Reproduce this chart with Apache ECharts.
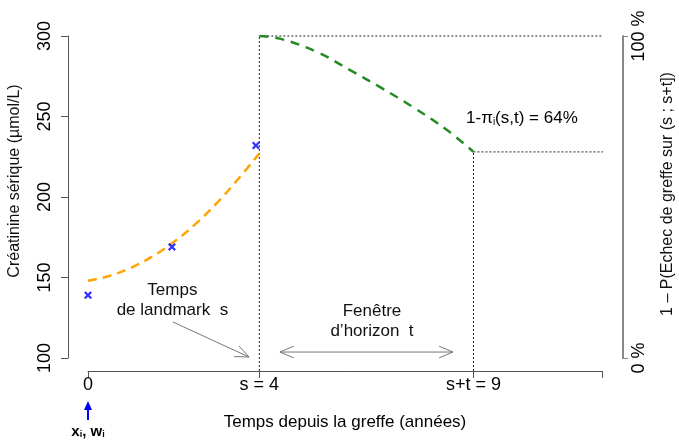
<!DOCTYPE html>
<html>
<head>
<meta charset="utf-8">
<script src="https://cdn.jsdelivr.net/npm/echarts@6/dist/echarts.min.js"></script>
<style>
    html, body { margin: 0; padding: 0; background: #fff; }
    #chart { width: 679px; height: 440px; }
</style>
</head>
<body>
<div id="chart"></div>
<script>
    // données
    const fitYears = [0, 0.5, 1, 1.5, 2, 2.5, 3, 3.5, 4];
    const fitCreat = [148, 151, 156, 163, 172, 183, 196, 211, 227];
    const obsYears = [0, 1.96, 3.92];
    const obsCreat = [139, 169, 232];
    const survYears = [4, 4.5, 5.35, 6.12, 6.82, 7.59, 8.39, 9];
    const survPct = [100, 99.1, 95.0, 89.4, 84.1, 77.9, 70.7, 64];
    const landmark = 4;
    const horizonEnd = 9;
    const xTicks = [0, 4, 9, 12];
    const xTickLabels = ['0', 's = 4', 's+t = 9', ''];
    const pctTicks = [0, 100];

    const FONT = '"Liberation Sans", Arial, sans-serif';
    const X_OFFSET = 13;   // axe x décalé vers le bas (style R)
    const LEFT_OFFSET = 20;
    const RIGHT_OFFSET = 21;

    const chart = echarts.init(document.getElementById('chart'));

    const crossPath = 'path://M0,2 L2,0 L5,3 L8,0 L10,2 L7,5 L10,8 L8,10 L5,7 L2,10 L0,8 L3,5 Z';

    const option = {
        animation: false,
        textStyle: { fontFamily: FONT },
        grid: { left: 88, right: 77, top: 36, bottom: 82 },
        xAxis: {
            type: 'value',
            min: 0,
            max: 12,
            offset: X_OFFSET,
            splitLine: { show: false },
            axisLine: { onZero: false, lineStyle: { color: '#555', width: 1 } },
            axisTick: { length: 7, customValues: xTicks, lineStyle: { color: '#555' } },
            axisLabel: {
                customValues: xTicks,
                fontSize: 18,
                color: '#000',
                margin: 5,
                formatter: function (v) {
                    return xTickLabels[xTicks.indexOf(v)];
                }
            },
            name: 'Temps depuis la greffe (années)',
            nameLocation: 'middle',
            nameGap: 43,
            nameTextStyle: { fontSize: 17, color: '#000' }
        },
        yAxis: [{
            type: 'value',
            min: 100,
            max: 300,
            interval: 50,
            offset: LEFT_OFFSET,
            splitLine: { show: false },
            axisLine: { show: true, onZero: false, lineStyle: { color: '#555', width: 1 } },
            axisTick: { length: 7, lineStyle: { color: '#555' } },
            axisLabel: { rotate: 90, fontSize: 18, color: '#000', margin: 14 }
        }, {
            type: 'value',
            position: 'right',
            min: 0,
            max: 100,
            offset: RIGHT_OFFSET,
            splitLine: { show: false },
            axisLine: { show: true, onZero: false, lineStyle: { color: '#888', width: 2 } },
            axisTick: { show: true, length: 5, customValues: pctTicks, lineStyle: { color: '#888' } },
            axisLabel: {
                customValues: pctTicks,
                rotate: 90,
                fontSize: 18,
                color: '#000',
                margin: 7,
                formatter: '{value} %'
            }
        }],
        series: [{
            name: 'ajustement',
            type: 'line',
            smooth: 0.4,
            showSymbol: false,
            data: fitYears.map((x, i) => [x, fitCreat[i]]),
            lineStyle: { color: '#FFA500', width: 2.5, type: [9, 6] },
            z: 3
        }, {
            name: 'observations',
            type: 'scatter',
            symbol: crossPath,
            symbolSize: 8,
            data: obsYears.map((x, i) => [x, obsCreat[i]]),
            itemStyle: { color: '#0000FF' },
            z: 4
        }, {
            name: 'survie',
            type: 'line',
            yAxisIndex: 1,
            smooth: 0.4,
            showSymbol: false,
            data: survYears.map((x, i) => [x, survPct[i]]),
            lineStyle: { color: '#228B22', width: 2.5, type: [9, 7] },
            z: 3
        }]
    };
    chart.setOption(option);

    // repères pointillés jusqu'aux axes décalés
    const finder = { xAxisIndex: 0, yAxisIndex: 1 };
    const pOrigin = chart.convertToPixel(finder, [12, 0]);
    const floorPct = chart.convertFromPixel(finder, [pOrigin[0], pOrigin[1] + X_OFFSET])[1];
    const rightX = chart.convertFromPixel(finder, [pOrigin[0] + RIGHT_OFFSET, pOrigin[1]])[0];
    const endPct = survPct[survPct.length - 1];
    const dotted = { color: '#222', width: 1, type: [2, 2] };
    const guide = (pts) => ({
        type: 'line', yAxisIndex: 1, showSymbol: false, clip: false, silent: true,
        data: pts, lineStyle: dotted, z: 2
    });

    // annotations (coordonnées données)
    const px = (x, y) => chart.convertToPixel({ xAxisIndex: 0, yAxisIndex: 0 }, [x, y]);
    const gray = '#777';
    function openArrow(p0, p1, heads) {
        const els = [{
            type: 'line', shape: { x1: p0[0], y1: p0[1], x2: p1[0], y2: p1[1] },
            style: { stroke: gray, lineWidth: 1 }
        }];
        heads.forEach(function (h) {
            const tip = h === 1 ? p1 : p0;
            const from = h === 1 ? p0 : p1;
            const a = Math.atan2(tip[1] - from[1], tip[0] - from[0]);
            const L = 15, w = 0.4;
            els.push({
                type: 'polyline',
                shape: { points: [
                    [tip[0] - L * Math.cos(a - w), tip[1] - L * Math.sin(a - w)],
                    tip,
                    [tip[0] - L * Math.cos(a + w), tip[1] - L * Math.sin(a + w)]
                ] },
                style: { stroke: gray, lineWidth: 1, fill: null }
            });
        });
        return els;
    }
    function label(p, text, size, extra) {
        return Object.assign({
            type: 'text', x: p[0], y: p[1],
            style: {
                text: text, font: size + 'px ' + FONT, fill: '#111',
                textAlign: 'center', textVerticalAlign: 'middle',
                align: 'center', verticalAlign: 'middle', lineHeight: 20
            }
        }, extra || {});
    }

    const zeroPx = px(0, 100);
    const axisY = zeroPx[1] + X_OFFSET;
    const graphics = []
        .concat(openArrow(px(1.98, 122.4), px(3.76, 100.6), [1]))
        .concat(openArrow(px(4.48, 103.7), px(8.52, 103.7), [0, 1]))
        .concat([
            label(px(1.97, 136), 'Temps\nde landmark  s', 17),
            label(px(6.63, 122.5), 'Fenêtre\nd\u2019horizon  t', 17),
            {
                type: 'text', x: px(10.13, 249)[0], y: px(10.13, 249)[1],
                style: {
                    text: '{n|1-π}{s|i}{n|(s,t) = 64%}',
                    align: 'center', verticalAlign: 'middle',
                    textAlign: 'center', textVerticalAlign: 'middle',
                    rich: {
                        n: { fontSize: 17, fontFamily: FONT, color: '#5B6B2B' },
                        s: { fontSize: 10, fontFamily: FONT, color: '#5B6B2B', padding: [8, 0, 0, 0] }
                    }
                }
            },
            label([15, 181], 'Créatinine sérique (µmol/L)', 16, { rotation: Math.PI / 2 }),
            label([668, 194], '1 \u2013 P(Echec de greffe sur (s ; s+t])', 16, { rotation: Math.PI / 2 }),
            // flèche bleue sous 0
            {
                type: 'line', shape: { x1: zeroPx[0], y1: axisY + 49, x2: zeroPx[0], y2: axisY + 36 },
                style: { stroke: '#0000FF', lineWidth: 2 }
            },
            {
                type: 'polygon',
                shape: { points: [[zeroPx[0], axisY + 30], [zeroPx[0] - 4, axisY + 39], [zeroPx[0] + 4, axisY + 39]] },
                style: { fill: '#0000FF' }
            },
            {
                type: 'text', x: zeroPx[0], y: axisY + 61,
                style: {
                    text: '{b|x}{s|i}{b|, w}{s|i}',
                    align: 'center', verticalAlign: 'middle',
                    textAlign: 'center', textVerticalAlign: 'middle',
                    rich: {
                        b: { fontSize: 15, fontWeight: 'bold', fontFamily: FONT, color: '#1a3cff' },
                        s: { fontSize: 9, fontWeight: 'bold', fontFamily: FONT, color: '#1a3cff', padding: [6, 0, 0, 0] }
                    }
                }
            }
        ]);

    chart.setOption({
        series: option.series.concat([
            guide([[landmark, floorPct], [landmark, 100]]),
            guide([[landmark, 100], [rightX, 100]]),
            guide([[horizonEnd, floorPct], [horizonEnd, endPct]]),
            guide([[horizonEnd, endPct], [rightX, endPct]])
        ]),
        graphic: graphics
    });
</script>
</body>
</html>
